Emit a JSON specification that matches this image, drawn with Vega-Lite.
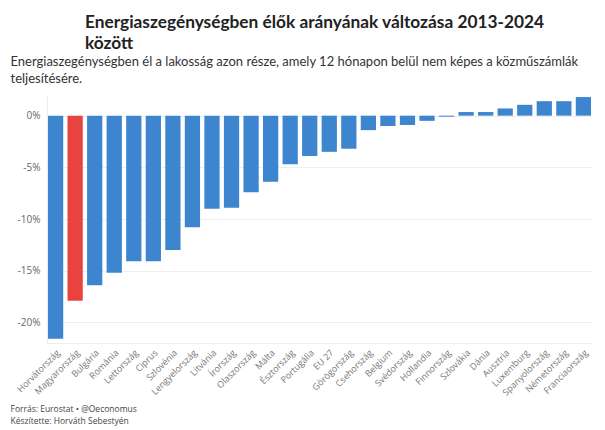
{
  "$schema": "https://vega.github.io/schema/vega-lite/v6.json",
  "autosize": "none",
  "width": 545,
  "height": 248,
  "padding": {"left": 47, "top": 95, "right": 13, "bottom": 87},
  "background": "white",
  "title": {
    "text": ["Energiaszegénységben élők arányának változása 2013-2024", "között"],
    "anchor": "start",
    "frame": "group",
    "dx": 38,
    "offset": 3,
    "font": "Lato",
    "fontSize": 17.3,
    "fontWeight": "bold",
    "color": "#222222",
    "lineHeight": 21
  },
  "data": {
    "values": [
      {"orszag": "Horvátország", "valtozas": -21.6},
      {"orszag": "Magyarország", "valtozas": -17.9},
      {"orszag": "Bulgária", "valtozas": -16.4},
      {"orszag": "Románia", "valtozas": -15.2},
      {"orszag": "Lettország", "valtozas": -14.1},
      {"orszag": "Ciprus", "valtozas": -14.1},
      {"orszag": "Szlovénia", "valtozas": -13.0},
      {"orszag": "Lengyelország", "valtozas": -10.8},
      {"orszag": "Litvánia", "valtozas": -9.0},
      {"orszag": "Írország", "valtozas": -8.9},
      {"orszag": "Olaszország", "valtozas": -7.4},
      {"orszag": "Málta", "valtozas": -6.4},
      {"orszag": "Észtország", "valtozas": -4.7},
      {"orszag": "Portugália", "valtozas": -3.9},
      {"orszag": "EU 27", "valtozas": -3.5},
      {"orszag": "Görögország", "valtozas": -3.2},
      {"orszag": "Csehország", "valtozas": -1.4},
      {"orszag": "Belgium", "valtozas": -1.0},
      {"orszag": "Svédország", "valtozas": -0.9},
      {"orszag": "Hollandia", "valtozas": -0.5},
      {"orszag": "Finnország", "valtozas": -0.1},
      {"orszag": "Szlovákia", "valtozas": 0.35},
      {"orszag": "Dánia", "valtozas": 0.35},
      {"orszag": "Ausztria", "valtozas": 0.7},
      {"orszag": "Luxemburg", "valtozas": 1.05},
      {"orszag": "Spanyolország", "valtozas": 1.4},
      {"orszag": "Németország", "valtozas": 1.4},
      {"orszag": "Franciaország", "valtozas": 1.8}
    ]
  },
  "mark": {"type": "bar"},
  "encoding": {
    "x": {
      "field": "orszag",
      "type": "nominal",
      "sort": null,
      "scale": {"paddingInner": 0.22, "paddingOuter": 0.05},
      "axis": {
        "labelAngle": -45,
        "labelFont": "Open Sans",
        "labelFontSize": 9,
        "labelColor": "#777777",
        "labelPadding": 5,
        "ticks": false,
        "domainColor": "#eeeeee",
        "title": ["Forrás: Eurostat • @Oeconomus", "Készítette: Horváth Sebestyén"],
        "titleAngle": 0,
        "titleAlign": "left",
        "titleBaseline": "top",
        "titleAnchor": "start",
        "titleX": -37,
        "titleY": 61,
        "titleFont": "Open Sans",
        "titleFontSize": 8.5,
        "titleFontWeight": "normal",
        "titleColor": "#444444",
        "titleLineHeight": 12
      }
    },
    "y": {
      "field": "valtozas",
      "type": "quantitative",
      "scale": {"domain": [-22, 2], "nice": false},
      "axis": {
        "values": [-20, -15, -10, -5, 0],
        "labelExpr": "datum.value + '%'",
        "labelFont": "Open Sans",
        "labelFontSize": 10,
        "labelColor": "#666666",
        "labelPadding": 7,
        "ticks": false,
        "domainColor": "#eeeeee",
        "gridColor": "#eeeeee",
        "title": ["Energiaszegénységben él a lakosság azon része, amely 12 hónapon belül nem képes a közműszámlák", "teljesítésére."],
        "titleAngle": 0,
        "titleAlign": "left",
        "titleBaseline": "top",
        "titleX": -37,
        "titleY": -40,
        "titleFont": "Lato",
        "titleFontSize": 13,
        "titleFontWeight": "normal",
        "titleColor": "#333333",
        "titleLineHeight": 17
      }
    },
    "color": {
      "condition": {"test": "datum.orszag === 'Magyarország'", "value": "#e8433f"},
      "value": "#3d85cf"
    }
  },
  "config": {"view": {"stroke": null}}
}
